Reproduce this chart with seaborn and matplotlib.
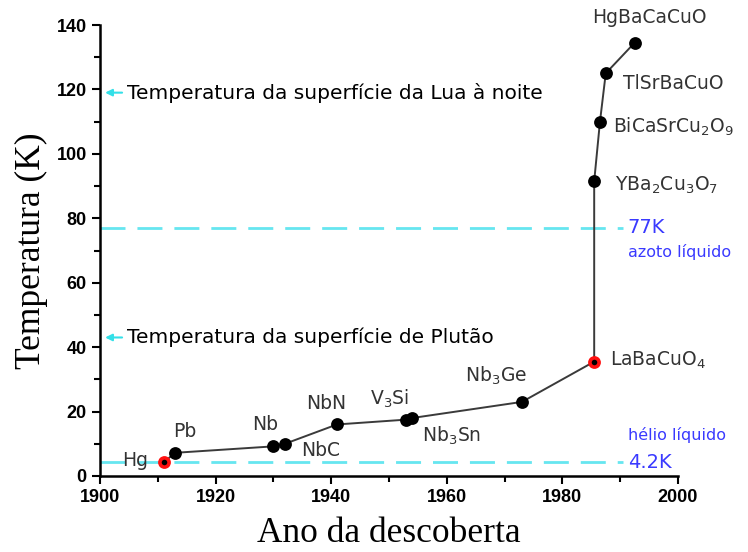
import matplotlib
matplotlib.use("Agg")
import matplotlib.pyplot as plt
import seaborn as sns
import pandas as pd
import numpy as np

# ---- data ----
materials = ["Hg", "Pb", "Nb", "NbC", "NbN", "V$_3$Si", "Nb$_3$Sn", "Nb$_3$Ge",
             "LaBaCuO$_4$", "YBa$_2$Cu$_3$O$_7$", "BiCaSrCu$_2$O$_9$", "TlSrBaCuO", "HgBaCaCuO"]
years = [1911, 1913, 1930, 1932, 1941, 1953, 1954, 1973, 1985.5, 1985.5, 1986.5, 1987.5, 1992.5]
temps = [4.2, 7.2, 9.2, 10.0, 16.0, 17.5, 18.0, 23.0, 35.5, 91.5, 110.0, 125.0, 134.5]
highlight = [True, False, False, False, False, False, False, False, True, False, False, False, False]

ref_temps = [77, 4.2]
ref_labels = ["77K", "4.2K"]
ref_names = ["azoto líquido", "hélio líquido"]
arrow_temps = [119, 43]
arrow_texts = ["Temperatura da superfície da Lua à noite", "Temperatura da superfície de Plutão"]

xticks = [1900, 1920, 1940, 1960, 1980, 2000]
yticks = [0, 20, 40, 60, 80, 100, 120, 140]

df = pd.DataFrame({"year": years, "temp": temps, "mat": materials, "hl": highlight})

# ---- style ----
sns.set_theme(style="ticks")
plt.rcParams["font.family"] = ["DejaVu Sans"]

fig = plt.figure(figsize=(7.48, 5.52), dpi=100)
ax = fig.add_axes([100/748, 1-476/552, 578/748, 451/552])

# reference dashed lines
for t in ref_temps:
    ax.plot([1900, 1990.5], [t, t], color="#66e6f0", lw=2, dashes=(9, 4.3), zorder=1)

sns.lineplot(data=df, x="year", y="temp", sort=False, color="#3a3a3a", lw=1.4,
             ax=ax, zorder=2, estimator=None)
sns.scatterplot(data=df[~df.hl], x="year", y="temp", color="black", s=85,
                edgecolor="black", linewidth=0, ax=ax, zorder=3)
sns.scatterplot(data=df[df.hl], x="year", y="temp", color="#ff1010", s=85,
                edgecolor="#ff1010", linewidth=0, ax=ax, zorder=3)
sns.scatterplot(data=df[df.hl], x="year", y="temp", color="black", s=16,
                linewidth=0, ax=ax, zorder=4)

# point labels (offsets in pixels)
offsets = {
    "Hg": (-15, 2, "right"), "Pb": (-2, 21, "left"), "Nb": (-21, 22, "left"),
    "NbC": (16, -7, "left"), "NbN": (-31, 21, "left"), "V$_3$Si": (-36, 21, "left"),
    "Nb$_3$Sn": (10, -18, "left"), "Nb$_3$Ge": (-57, 26, "left"),
    "LaBaCuO$_4$": (16, 1, "left"), "YBa$_2$Cu$_3$O$_7$": (21, -4, "left"),
    "BiCaSrCu$_2$O$_9$": (13, -5, "left"), "TlSrBaCuO": (17, -10, "left"),
    "HgBaCaCuO": (-43, 25, "left"),
}
for m, x, y in zip(materials, years, temps):
    dx, dy, ha = offsets[m]
    ax.annotate(m, (x, y), xytext=(dx, dy), textcoords="offset pixels",
                ha=ha, va="center", fontsize=13.5, color="#333333",
                annotation_clip=False)

# reference line labels
for t, lab, nm, dy in zip(ref_temps, ref_labels, ref_names, [-24, 27]):
    ax.text(1991.3, t, lab, color="#3a3aff", fontsize=14, va="center", ha="left")
    ax.annotate(nm, (1991.3, t), xytext=(0, dy), textcoords="offset pixels",
                color="#3a3aff", fontsize=11.5, va="center", ha="left")

# arrows and texts
for t, txt in zip(arrow_temps, arrow_texts):
    ax.annotate("", xy=(1900.4, t), xytext=(1904.3, t),
                arrowprops=dict(arrowstyle="-|>", color="#33e0e8", lw=1.5,
                                mutation_scale=10))
    ax.text(1904.7, t, txt, fontsize=14.5, va="center", ha="left", color="black")

ax.set_xlim(1900, 2000)
ax.set_ylim(0, 140)
ax.set_xticks(xticks)
ax.set_yticks(yticks)
ax.set_xticks(np.arange(1910, 2000, 20), minor=True)
ax.set_yticks(np.arange(10, 140, 20), minor=True)
for lab in ax.get_xticklabels() + ax.get_yticklabels():
    lab.set_fontfamily("Liberation Sans")
    lab.set_fontweight("bold")
    lab.set_fontsize(13)
    lab.set_color("black")
ax.tick_params(axis="both", which="major", direction="out", length=6, width=1.5, color="black")
ax.tick_params(axis="both", which="minor", direction="out", length=4, width=1.5, color="black")
sns.despine(ax=ax)
for s in ["left", "bottom"]:
    ax.spines[s].set_linewidth(1.8)
    ax.spines[s].set_color("black")

ax.set_xlabel("Ano da descoberta", fontfamily="Liberation Serif", fontsize=25.5,
              labelpad=8, color="black")
ax.set_ylabel("Temperatura (K)", fontfamily="Liberation Serif", fontsize=25.5,
              labelpad=6, color="black")

fig.savefig("out.png", dpi=100)
